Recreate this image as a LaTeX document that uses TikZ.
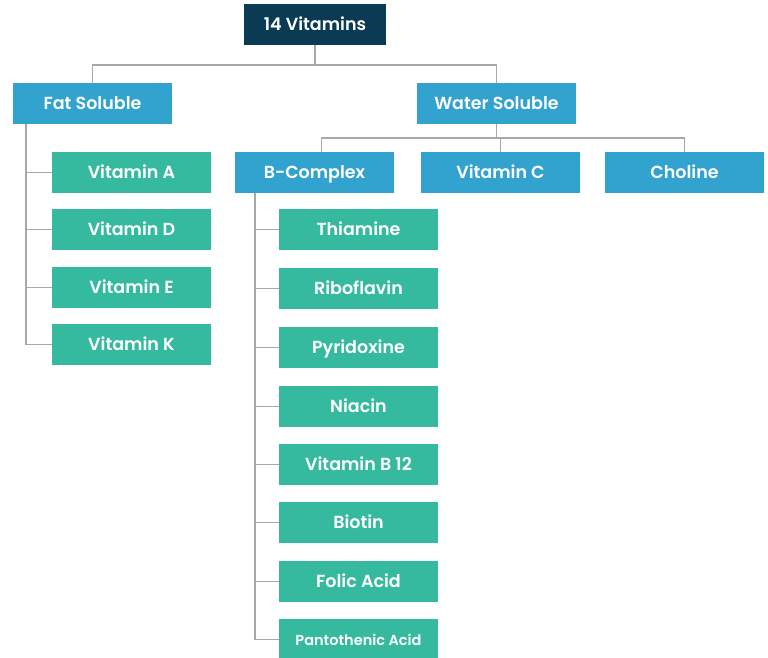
\documentclass[tikz,border=0pt]{standalone}
\usepackage{fontspec}
\setmainfont{Poppins}[BoldFont={Poppins SemiBold}]
\usetikzlibrary{positioning, calc}
\definecolor{rootNavy}{HTML}{0B3A55}
\definecolor{groupBlue}{HTML}{32A3CF}
\definecolor{itemGreen}{HTML}{36BA9F}
\definecolor{linkGray}{HTML}{A8A8A8}
\begin{document}
\begin{tikzpicture}[x=1pt, y=-1pt,
    box/.style={minimum width=159pt, minimum height=41pt, inner sep=0pt, text height=13pt, text depth=1pt, text=white, font=\bfseries\fontsize{17.5}{20}\selectfont},
    rootbox/.style={box, fill=rootNavy, minimum width=142pt},
    groupbox/.style={box, fill=groupBlue},
    itembox/.style={box, fill=itemGreen},
    link/.style={draw=linkGray, line width=1.2pt}]
        \useasboundingbox (0,0) rectangle (768,658);

        \node[rootbox] (root) at (315,24.5) {14 Vitamins};
        \node[groupbox] (fat) at (92.5,103.5) {Fat Soluble};
        \node[groupbox] (water) at (496.5,103.5) {Water Soluble};

        \node[itembox] (vitA) at (131.5,172.5) {Vitamin A};
        \node[itembox] (vitD) at (131.5,229.5) {Vitamin D};
        \node[itembox] (vitE) at (131.5,287.5) {Vitamin E};
        \node[itembox] (vitK) at (131.5,344.5) {Vitamin K};

        \node[groupbox] (bcomplex) at (314.5,172.5) {B-Complex};
        \node[groupbox] (vitC) at (500.5,172.5) {Vitamin C};
        \node[groupbox] (choline) at (684.5,172.5) {Choline};

        \node[itembox] (thiamine) at (358.5,229.5) {Thiamine};
        \node[itembox] (riboflavin) at (358.5,288.5) {Riboflavin};
        \node[itembox] (pyridoxine) at (358.5,347.5) {Pyridoxine};
        \node[itembox] (niacin) at (358.5,406.5) {Niacin};
        \node[itembox] (vitB) at (358.5,464.5) {Vitamin B 12};
        \node[itembox] (biotin) at (358.5,522.5) {Biotin};
        \node[itembox] (folic) at (358.5,581.5) {Folic Acid};
        \node[itembox, font=\bfseries\fontsize{14.5}{16}\selectfont] (panto) at (358.5,639.5) {Pantothenic Acid};

        % top level
        \coordinate (mainBus) at (315,65);
        \draw[link] (root.south) -- (mainBus);
        \draw[link] (fat.north) |- (mainBus) -| (water.north);

        % fat soluble
        \coordinate (fatTrunk) at (26,124);
        \draw[link] (fatTrunk) |- (vitK.west);
        \draw[link] (vitA.west) -- (vitA.west -| fatTrunk);
        \draw[link] (vitD.west) -- (vitD.west -| fatTrunk);
        \draw[link] (vitE.west) -- (vitE.west -| fatTrunk);

        % water soluble
        \coordinate (waterBus) at (496.5,138);
        \draw[link] (water.south) -- (waterBus);
        \draw[link] ([xshift=7pt]bcomplex.north) |- (waterBus) -| (choline.north);
        \draw[link] (vitC.north) -- (vitC.north |- waterBus);

        % b-complex
        \coordinate (bTrunk) at (255,193);
        \draw[link] (bTrunk) |- (panto.west);
        \draw[link] (thiamine.west) -- (thiamine.west -| bTrunk);
        \draw[link] (riboflavin.west) -- (riboflavin.west -| bTrunk);
        \draw[link] (pyridoxine.west) -- (pyridoxine.west -| bTrunk);
        \draw[link] (niacin.west) -- (niacin.west -| bTrunk);
        \draw[link] (vitB.west) -- (vitB.west -| bTrunk);
        \draw[link] (biotin.west) -- (biotin.west -| bTrunk);
        \draw[link] (folic.west) -- (folic.west -| bTrunk);
      \end{tikzpicture}
\end{document}
